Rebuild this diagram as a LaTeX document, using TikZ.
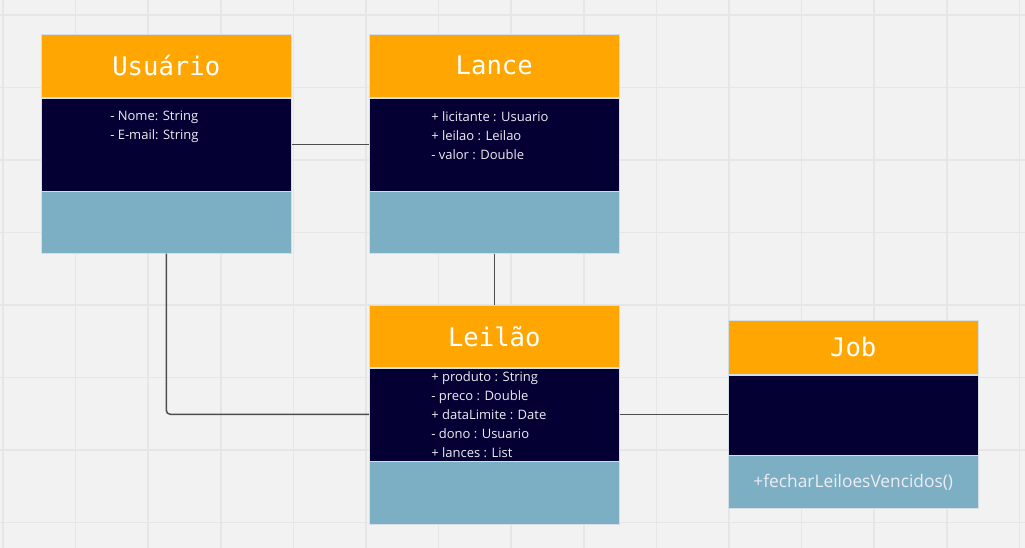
\documentclass[tikz,border=0pt]{standalone}
\usepackage{fontspec}
\setmainfont{Open Sans}
\setmonofont{DejaVu Sans Mono}
\usetikzlibrary{positioning}

\definecolor{bgGray}{HTML}{F2F2F2}
\definecolor{gridGray}{HTML}{E6E6E6}
\definecolor{headOrange}{HTML}{FFA602}
\definecolor{bodyNavy}{HTML}{040034}
\definecolor{footBlue}{HTML}{7DAFC4}
\definecolor{edgeBlue}{HTML}{D3DEE6}
\definecolor{linkGray}{HTML}{4D4D4D}
\definecolor{textWhite}{HTML}{ECECF2}

\newcommand{\px}{0.75pt}

\tikzset{
    part/.style={minimum width=250*\px, inner sep=0pt, draw=edgeBlue, line width=0.4pt},
    head/.style={part, fill=headOrange, text=white, font=\ttfamily\fontsize{19.2}{20}\selectfont},
    body/.style={part, fill=bodyNavy},
    foot/.style={part, fill=footBlue},
    attr/.style={anchor=north west, inner sep=0pt, align=left, text=textWhite, font=\fontsize{9.75}{14.25}\selectfont},
    method/.style={inner sep=0pt, text=textWhite, font=\fontsize{13}{15}\selectfont},
    link/.style={draw=linkGray, line width=1.5*\px},
}

\begin{document}
\begin{tikzpicture}[x=\px, y=-\px]
    \useasboundingbox (0,0) rectangle (1025,548);
    \fill[bgGray] (0,0) rectangle (1025,548);
    \foreach \i in {0,...,14}
        \draw[gridGray, line width=1.5*\px] (3+72.6*\i,0) -- (3+72.6*\i,548);
    \foreach \j in {0,...,7}
        \draw[gridGray, line width=1.5*\px] (0,15+72.5*\j) -- (1025,15+72.5*\j);

    \node[head, anchor=north west, minimum height=63*\px] (usuarioHead) at (41,34) {Usuário};
    \node[body, below=0pt of usuarioHead, minimum height=93*\px] (usuarioBody) {};
    \node[foot, below=0pt of usuarioBody, minimum height=62*\px] (usuarioFoot) {};
    \node[attr] (usuarioAttr) at (110,111) {- Nome: String\\- E-mail: String};

    \node[head, anchor=north west, minimum height=63*\px] (lanceHead) at (369,34) {Lance};
    \node[body, below=0pt of lanceHead, minimum height=93*\px] (lanceBody) {};
    \node[foot, below=0pt of lanceBody, minimum height=62*\px] (lanceFoot) {};
    \node[attr] (lanceAttr) at (431,111) {+ licitante : Usuario\\+ leilao : Leilao\\- valor : Double};

    \node[head, anchor=north west, minimum height=62*\px] (leilaoHead) at (369,305) {Leilão};
    \node[body, below=0pt of leilaoHead, minimum height=93*\px] (leilaoBody) {};
    \node[foot, below=0pt of leilaoBody, minimum height=63*\px] (leilaoFoot) {};
    \node[attr] (leilaoAttr) at (431,371) {+ produto : String\\- preco : Double\\+ dataLimite : Date\\- dono : Usuario\\+ lances : List};

    \node[head, anchor=north west, minimum height=54*\px] (jobHead) at (728,320) {Job};
    \node[body, below=0pt of jobHead, minimum height=80*\px] (jobBody) {};
    \node[foot, below=0pt of jobBody, minimum height=53*\px] (jobFoot) {};
    \node[method] (jobMethod) at (jobFoot.center) {+fecharLeiloesVencidos()};

    \draw[link] (usuarioBody.east) -- (lanceBody.west);
    \draw[link] (lanceFoot.south) -- (leilaoHead.north);
    \draw[link, rounded corners=4*\px] (usuarioFoot.south) |- (leilaoBody.west);
    \draw[link] (leilaoBody.east) -- (leilaoBody.east -| jobBody.west);
\end{tikzpicture}
\end{document}
